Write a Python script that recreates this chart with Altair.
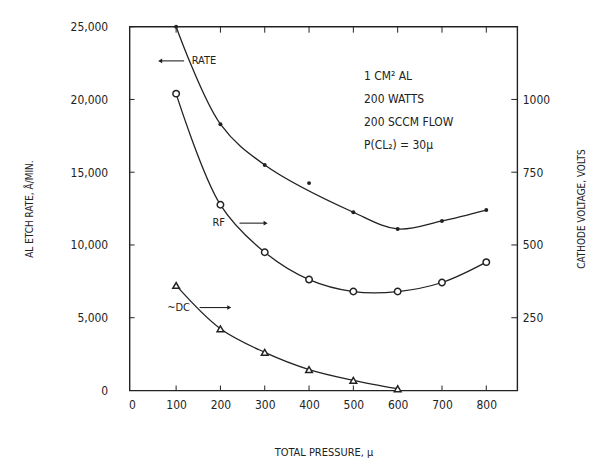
import altair as alt
import pandas as pd

# ---- data ----
pressure = [100, 200, 300, 400, 500, 600, 700, 800]
rate = [25000, 18300, 15500, 14250, 12250, 11100, 11650, 12400]          # Å/min (left axis)
# the drawn rate curve is a fit that passes below the 400 µ point
rate_curve_pressure = [100, 200, 300, 500, 600, 700, 800]
rate_curve = [25000, 18300, 15500, 12250, 11100, 11650, 12400]
rf_volts = [1020, 638, 475, 381, 340, 340, 371, 441]                    # volts (right axis)
dc_pressure = [100, 200, 300, 400, 500, 600]
dc_volts = [361, 212, 131, 72, 35, 6]                                   # volts (right axis)

x_ticks = [100, 200, 300, 400, 500, 600, 700, 800]
left_ticks = [0, 5000, 10000, 15000, 20000, 25000]
right_ticks = [250, 500, 750, 1000]

note_lines = ["1 CM² AL", "200 WATTS", "200 SCCM FLOW", "P(CL₂) = 30μ"]
note_y = [21600, 20000, 18450, 16850]

label_text = ["RATE", "RF", "~DC"]
label_x = [135, 182, 80]
label_y = [22650, 11500, 5700]
arrow_x1 = [118, 243, 153]
arrow_x2 = [64, 302, 220]
arrow_dir = ["triangle-left", "triangle-right", "triangle-right"]

INK = "#222222"
FONT = "DejaVu Sans Condensed, Liberation Sans Narrow, sans-serif"
W, H = 389, 365

xscale = alt.Scale(domain=[-5, 870], nice=False, zero=False)
yl_scale = alt.Scale(domain=[0, 25000], nice=False)
yr_scale = alt.Scale(domain=[0, 1250], nice=False)

x_axis = alt.Axis(values=[0] + x_ticks, title="TOTAL PRESSURE, μ", labelPadding=9,
                  titlePadding=36, labelFontSize=12, titleFontSize=11)
yl_axis = alt.Axis(values=left_ticks, format=",d", title="AL ETCH RATE, Å/MIN.",
                   labelPadding=22, labelFontSize=12, titleFontSize=10,
                   titleX=-100, titleY=H / 2, titleAngle=270,
                   titleAlign="center", titleBaseline="middle")
yr_axis = alt.Axis(values=right_ticks, format="d", title="CATHODE VOLTAGE, VOLTS",
                   labelPadding=5, labelFontSize=12, titleFontSize=10,
                   titleX=64, titleY=H / 2, titleAngle=270,
                   titleAlign="center", titleBaseline="middle")


def X(field="x"):
    return alt.X(f"{field}:Q", scale=xscale, axis=x_axis, title="TOTAL PRESSURE, μ")


def YL(field="y"):
    return alt.Y(f"{field}:Q", scale=yl_scale, axis=yl_axis, title="AL ETCH RATE, Å/MIN.")


def YR(field="y"):
    return alt.Y(f"{field}:Q", scale=yr_scale, axis=yr_axis, title="CATHODE VOLTAGE, VOLTS")


rate_df = pd.DataFrame({"x": pressure, "y": rate})
rate_curve_df = pd.DataFrame({"x": rate_curve_pressure, "y": rate_curve})
rf_df = pd.DataFrame({"x": pressure, "y": rf_volts})
dc_df = pd.DataFrame({"x": dc_pressure, "y": dc_volts})
notes_df = pd.DataFrame({"x": [524] * len(note_lines), "y": note_y, "t": note_lines})
labels_df = pd.DataFrame({"x": label_x, "y": label_y, "t": label_text})
arrows_df = pd.DataFrame({"x1": arrow_x1, "x2": arrow_x2, "y": label_y, "shape": arrow_dir})
xt_df = pd.DataFrame({"x": x_ticks})
ylt_df = pd.DataFrame({"y": left_ticks[1:]})
yrt_df = pd.DataFrame({"y": right_ticks})

# ---- left-axis layers ----
rate_line = alt.Chart(rate_curve_df).mark_line(color=INK, strokeWidth=1.3, interpolate="catmull-rom").encode(
    x=X(), y=YL())
rate_pts = alt.Chart(rate_df).mark_point(filled=True, color=INK, size=16, opacity=1).encode(x=X(), y=YL())
notes = alt.Chart(notes_df).mark_text(align="left", baseline="middle", font=FONT, fontSize=12, color=INK).encode(
    x=X(), y=YL(), text="t:N")
labels = alt.Chart(labels_df).mark_text(align="left", baseline="middle", font=FONT, fontSize=11, color=INK).encode(
    x=X(), y=YL(), text="t:N")
arrow_shaft = alt.Chart(arrows_df).mark_rule(color=INK, strokeWidth=1.1).encode(
    x=X("x1"), x2="x2:Q", y=YL())
arrow_head = alt.Chart(arrows_df).mark_point(filled=True, color=INK, size=22, opacity=1).encode(
    x=X("x2"), y=YL(), shape=alt.Shape("shape:N", scale=None, legend=None))
top_ticks = alt.Chart(xt_df).mark_rule(color=INK, strokeWidth=1).encode(
    x=X(), y=alt.value(0), y2=alt.value(6))
bottom_ticks = alt.Chart(xt_df).mark_rule(color=INK, strokeWidth=1).encode(
    x=X(), y=alt.value(H), y2=alt.value(H - 5))
left_ticks_m = alt.Chart(ylt_df).mark_rule(color=INK, strokeWidth=1).encode(
    y=YL(), x=alt.value(0), x2=alt.value(5))

left = alt.layer(rate_line, rate_pts, notes, labels, arrow_shaft, arrow_head,
                 top_ticks, bottom_ticks, left_ticks_m)

# ---- right-axis layers ----
rf_line = alt.Chart(rf_df).mark_line(color=INK, strokeWidth=1.3, interpolate="catmull-rom").encode(x=X(), y=YR())
rf_pts = alt.Chart(rf_df).mark_point(shape="circle", filled=False, color=INK, size=42, strokeWidth=1.5,
                                     opacity=1, fill="white").encode(x=X(), y=YR())
dc_line = alt.Chart(dc_df).mark_line(color=INK, strokeWidth=1.3, interpolate="catmull-rom").encode(x=X(), y=YR())
dc_pts = alt.Chart(dc_df).mark_point(shape="triangle-up", filled=False, color=INK, size=45, strokeWidth=1.5,
                                     opacity=1, fill="white").encode(x=X(), y=YR())
right_ticks_m = alt.Chart(yrt_df).mark_rule(color=INK, strokeWidth=1).encode(
    y=YR(), x=alt.value(W), x2=alt.value(W - 6))

right = alt.layer(rf_line, dc_line, rf_pts, dc_pts, right_ticks_m)

chart = alt.layer(left, right).resolve_scale(y="independent").properties(
    width=W, height=H,
    autosize=alt.AutoSizeParams(type="none"),
    padding={"left": 122, "top": 18, "right": 90, "bottom": 70},
    background="white",
).configure_view(stroke=INK, strokeWidth=1.4).configure_axis(
    domain=False, ticks=False, grid=False, labelFont=FONT, titleFont=FONT,
    labelColor=INK, titleColor=INK, titleFontWeight="normal",
)

chart.save("out.html", embed_options={"renderer": "svg", "actions": False})
